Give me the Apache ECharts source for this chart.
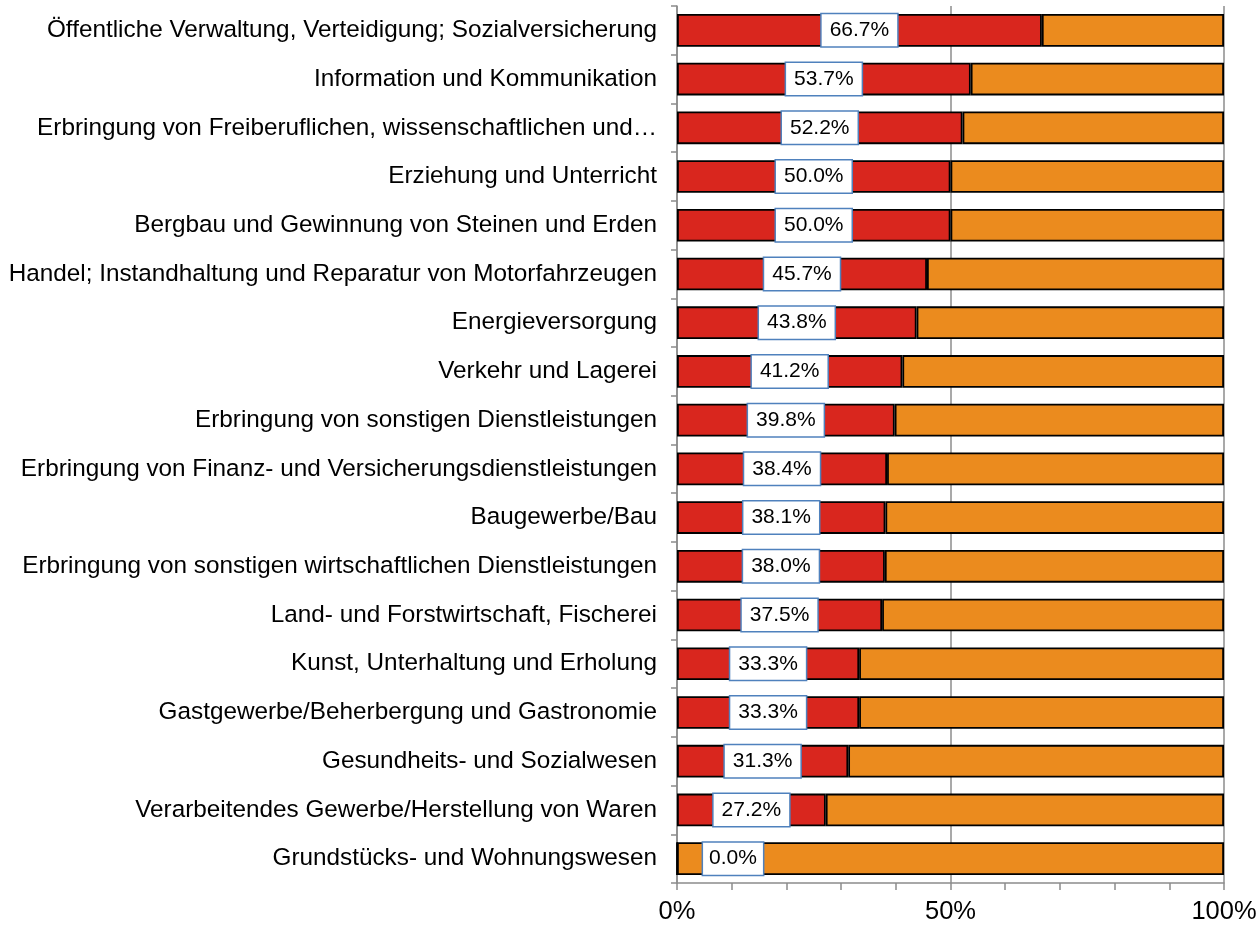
<!DOCTYPE html>
<html>
<head>
<meta charset="utf-8">
<script src="https://cdn.jsdelivr.net/npm/echarts@6/dist/echarts.min.js"></script>
<style>
  html, body { margin: 0; padding: 0; background: #fff; }
  #chart { width: 1260px; height: 926px; }
</style>
</head>
<body>
<div id="chart"></div>
<script>
var categories = [
  "Öffentliche Verwaltung, Verteidigung; Sozialversicherung",
  "Information und Kommunikation",
  "Erbringung von Freiberuflichen, wissenschaftlichen und…",
  "Erziehung und Unterricht",
  "Bergbau und Gewinnung von Steinen und Erden",
  "Handel; Instandhaltung und Reparatur von Motorfahrzeugen",
  "Energieversorgung",
  "Verkehr und Lagerei",
  "Erbringung von sonstigen Dienstleistungen",
  "Erbringung von Finanz- und Versicherungsdienstleistungen",
  "Baugewerbe/Bau",
  "Erbringung von sonstigen wirtschaftlichen Dienstleistungen",
  "Land- und Forstwirtschaft, Fischerei",
  "Kunst, Unterhaltung und Erholung",
  "Gastgewerbe/Beherbergung und Gastronomie",
  "Gesundheits- und Sozialwesen",
  "Verarbeitendes Gewerbe/Herstellung von Waren",
  "Grundstücks- und Wohnungswesen"
];
var shareValues = [66.7, 53.7, 52.2, 50.0, 50.0, 45.7, 43.8, 41.2, 39.8, 38.4, 38.1, 38.0, 37.5, 33.3, 33.3, 31.3, 27.2, 0.0];
var restValues = shareValues.map(function (v) { return +(100 - v).toFixed(1); });

var chart = echarts.init(document.getElementById('chart'));

var redData = shareValues.map(function (v) {
  if (v === 0) {
    // Excel puts the 0% label a bit into the bar
    return { value: v, label: { offset: [56, 0], padding: [6, 6, 5, 6] } };
  }
  return v;
});

var option = {
  animation: false,
  grid: { left: 677, right: 36, top: 6, bottom: 43 },
  xAxis: {
    type: 'value',
    min: 0,
    max: 100,
    interval: 50,
    axisLine: { show: true, lineStyle: { color: '#8c8c8c', width: 1.5 } },
    axisTick: { show: true, length: 7, lineStyle: { color: '#8c8c8c', width: 1.5 } },
    minorTick: { show: true, splitNumber: 5, length: 7, lineStyle: { color: '#8c8c8c', width: 1.5 } },
    splitLine: { show: true, lineStyle: { color: '#8c8c8c', width: 1.5 } },
    axisLabel: {
      formatter: '{value}%',
      color: '#000',
      fontFamily: 'Liberation Sans, Arial',
      fontSize: 25.5,
      margin: 16
    }
  },
  yAxis: {
    type: 'category',
    inverse: true,
    data: categories,
    axisLine: { show: true, lineStyle: { color: '#8c8c8c', width: 1.5 } },
    axisTick: { show: true, length: 6, lineStyle: { color: '#8c8c8c', width: 1.5 } },
    axisLabel: {
      color: '#000',
      fontFamily: 'Liberation Sans, Arial',
      fontSize: 24.3,
      margin: 20
    }
  },
  series: [
    {
      name: 'Anteil',
      type: 'bar',
      stack: 'total',
      barWidth: '67%',
      data: redData,
      itemStyle: { color: '#d9261e', borderColor: '#000', borderWidth: 1.8 },
      label: {
        show: true,
        position: 'inside',
        formatter: function (p) { return p.value.toFixed(1) + '%'; },
        color: '#000',
        fontFamily: 'Liberation Sans, Arial',
        fontSize: 21,
        backgroundColor: '#fff',
        borderColor: '#4f81bd',
        borderWidth: 1.5,
        padding: [6, 8, 5, 8]
      }
    },
    {
      name: 'Rest',
      type: 'bar',
      stack: 'total',
      barWidth: '67%',
      data: restValues,
      itemStyle: { color: '#eb8b1e', borderColor: '#000', borderWidth: 1.8 },
      z: 1
    }
  ]
};

chart.setOption(option);
</script>
</body>
</html>
